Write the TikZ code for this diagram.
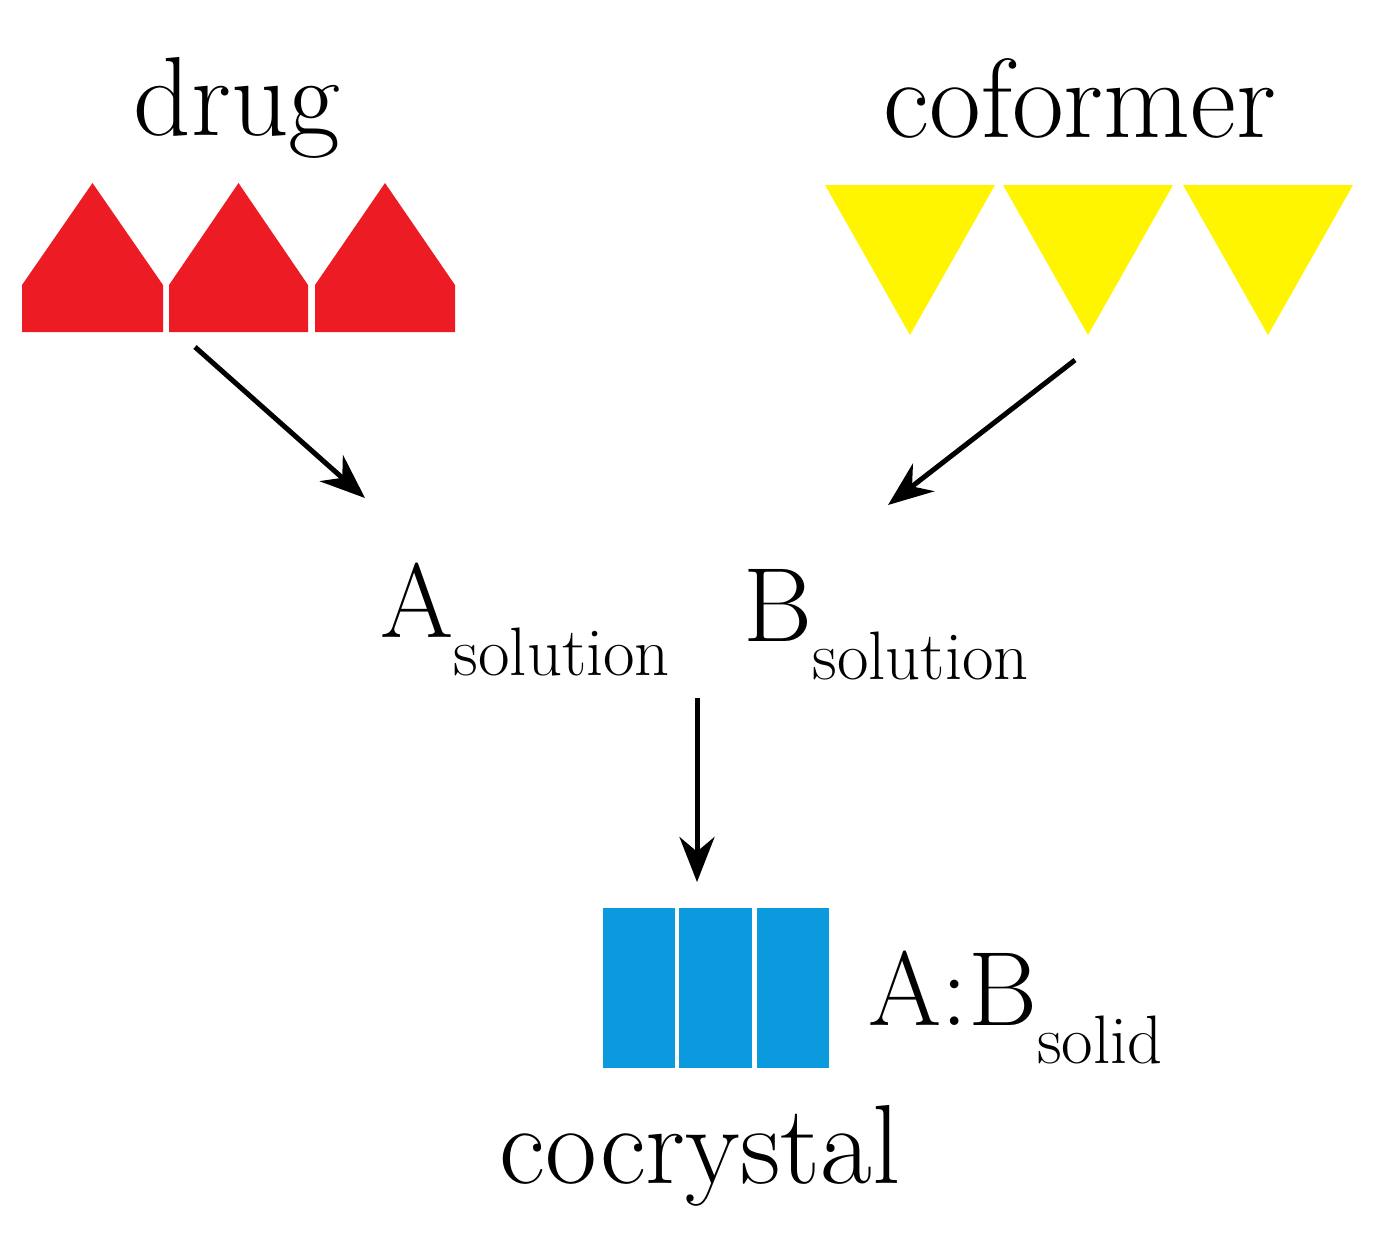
\documentclass[tikz,border=0pt]{standalone}
\usetikzlibrary{arrows.meta}
\begin{document}
\begin{tikzpicture}[x=0.01cm,y=-0.01cm,
  drugfill/.style={fill={rgb,255:red,237;green,28;blue,36}},
  coffill/.style={fill={rgb,255:red,255;green,245;blue,0}},
  cocfill/.style={fill={rgb,255:red,11;green,154;blue,222}},
  arr/.style={line width=0.5mm,-{Stealth[length=4.5mm,width=3.5mm]}},
  big/.style={font=\fontsize{32}{32}\selectfont,inner sep=0},
  lab/.style={inner sep=0,anchor=base west}]
\fill[white] (0,0) rectangle (1380,1235);
\foreach \a/\b in {22/163,169/308,315/455}
  \fill[drugfill] (\a,332) -- (\a,285) -- ({(\a+\b)/2},183) -- (\b,285) -- (\b,332) -- cycle;
\foreach \a in {825,1003,1183}
  \fill[coffill] (\a,185) -- (\a+170,185) -- (\a+85,335) -- cycle;
\foreach \a/\b in {603/675,679/752,757/829}
  \fill[cocfill] (\a,908) rectangle (\b,1068);
\node[big,anchor=base] (drug) at (237,135) {drug};
\node[big,anchor=base] (cof) at (1080,137) {coformer};
\node[big,anchor=base] (coc) at (700,1183) {cocrystal};
\node[lab] (A) at (380,637) {\fontsize{30}{30}\selectfont A\raisebox{-0.38cm}{\fontsize{19.5}{19.5}\selectfont solution}};
\node[lab] (B) at (743,641) {\fontsize{30}{30}\selectfont B\raisebox{-0.38cm}{\fontsize{19.5}{19.5}\selectfont solution}};
\node[lab] (AB) at (868,1025) {\fontsize{30}{30}\selectfont A:B\raisebox{-0.38cm}{\fontsize{19.5}{19.5}\selectfont solid}};
\coordinate (d1) at (195,347); \coordinate (d2) at (365,498);
\coordinate (c1) at (1075,360); \coordinate (c2) at (888,505);
\coordinate (s1) at (697,698); \coordinate (s2) at (697,882);
\draw[arr] (d1) -- (d2);
\draw[arr] (c1) -- (c2);
\draw[arr] (s1) -- (s2);
\end{tikzpicture}
\end{document}
